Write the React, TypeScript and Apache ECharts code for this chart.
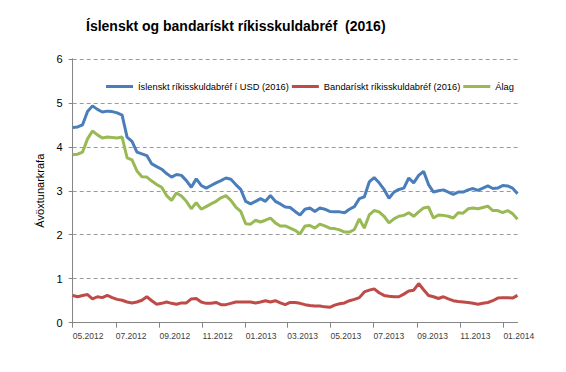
import React, { useEffect, useRef } from "react";
import * as echarts from "echarts";

const DAY = 86400000;
const startDate = Date.UTC(2012, 4, 1);
const stepDays = 7;

const seriesNames = [
  "Íslenskt ríkisskuldabréf í USD (2016)",
  "Bandarískt ríkisskuldabréf (2016)",
  "Álag",
];

const icelandUsd = [
  4.44, 4.45, 4.5, 4.8, 4.93, 4.85, 4.79, 4.81, 4.8, 4.77, 4.72, 4.22, 4.12, 3.88, 3.84, 3.8,
  3.61, 3.55, 3.49, 3.39, 3.31, 3.37, 3.35, 3.23, 3.08, 3.27, 3.12, 3.06, 3.12, 3.18, 3.23, 3.29,
  3.26, 3.14, 3.03, 2.76, 2.7, 2.76, 2.82, 2.76, 2.89, 2.76, 2.7, 2.63, 2.62, 2.53, 2.45, 2.58,
  2.61, 2.53, 2.61, 2.58, 2.53, 2.52, 2.52, 2.5, 2.58, 2.64, 2.82, 2.86, 3.2, 3.3, 3.18, 3.03,
  2.83, 2.97, 3.03, 3.06, 3.29, 3.18, 3.35, 3.44, 3.14, 2.97, 3.0, 3.02, 2.97, 2.92, 2.97, 2.97,
  3.02, 3.05, 3.01, 3.06, 3.11, 3.05, 3.06, 3.12, 3.11, 3.06, 2.93,
];

const usTreasury = [
  0.62, 0.59, 0.62, 0.64, 0.54, 0.59, 0.57, 0.62, 0.57, 0.53, 0.51, 0.47, 0.45, 0.47, 0.51, 0.59,
  0.5, 0.42, 0.44, 0.47, 0.44, 0.42, 0.45, 0.45, 0.54, 0.55, 0.47, 0.44, 0.44, 0.46, 0.41, 0.41,
  0.44, 0.47, 0.47, 0.47, 0.47, 0.45, 0.47, 0.5, 0.47, 0.5, 0.45, 0.41, 0.46, 0.46, 0.44, 0.41,
  0.39, 0.38, 0.38, 0.36, 0.35, 0.4, 0.43, 0.45, 0.5, 0.53, 0.57, 0.7, 0.74, 0.77, 0.68, 0.62,
  0.6, 0.59, 0.59, 0.65, 0.72, 0.74, 0.89, 0.75, 0.62, 0.59, 0.55, 0.59, 0.54, 0.5, 0.48, 0.47,
  0.46, 0.44, 0.42, 0.44, 0.46, 0.5, 0.56, 0.57, 0.57, 0.56, 0.62,
];

const spread = [
  3.82, 3.83, 3.88, 4.18, 4.36, 4.27, 4.2, 4.22, 4.21, 4.2, 4.22, 3.75, 3.7, 3.45, 3.32, 3.31,
  3.22, 3.14, 3.08, 2.89, 2.78, 2.95, 2.88, 2.76, 2.59, 2.73, 2.58, 2.64, 2.7, 2.76, 2.84, 2.89,
  2.78, 2.63, 2.53, 2.25, 2.24, 2.33, 2.29, 2.33, 2.38, 2.27, 2.2, 2.2, 2.15, 2.1, 2.02, 2.2,
  2.21, 2.15, 2.24, 2.2, 2.15, 2.14, 2.11, 2.06, 2.06, 2.12, 2.36, 2.15, 2.45, 2.55, 2.52, 2.42,
  2.27, 2.36, 2.42, 2.44, 2.5, 2.42, 2.52, 2.61, 2.63, 2.38, 2.45, 2.44, 2.42, 2.38, 2.5, 2.49,
  2.59, 2.61, 2.59, 2.62, 2.65, 2.55, 2.55, 2.5, 2.55, 2.48, 2.35,
];

const tickDates = [
  Date.UTC(2012, 4, 1), Date.UTC(2012, 6, 1), Date.UTC(2012, 8, 1), Date.UTC(2012, 10, 1),
  Date.UTC(2013, 0, 1), Date.UTC(2013, 2, 1), Date.UTC(2013, 4, 1), Date.UTC(2013, 6, 1),
  Date.UTC(2013, 8, 1), Date.UTC(2013, 10, 1), Date.UTC(2014, 0, 1),
];
const tickLabels = [
  "05.2012", "07.2012", "09.2012", "11.2012", "01.2013", "03.2013",
  "05.2013", "07.2013", "09.2013", "11.2013", "01.2014",
];

const colors = ["#4A7EBB", "#BE4B48", "#98B954"];

export default function App() {
  const ref = useRef<HTMLDivElement>(null);
  useEffect(() => {
    if (!ref.current) return;
    const chart = echarts.init(ref.current, undefined, { renderer: "svg" });
    const dates = icelandUsd.map((_, i) => startDate + i * stepDays * DAY);
    const endDate = dates[dates.length - 1];
    const mk = (vals: number[]) => vals.map((v, i) => [dates[i], v]);
    const allSeries = [icelandUsd, usTreasury, spread];
    chart.setOption({
      animation: false,
      color: colors,
      textStyle: { fontFamily: "Liberation Sans" },
      title: {
        text: "Íslenskt og bandarískt ríkisskuldabréf  (2016)",
        left: 81,
        top: 14,
        textStyle: { fontSize: 14, fontWeight: "bold", color: "#000", fontFamily: "Liberation Sans" },
      },
      legend: {
        left: 101,
        top: 77,
        icon: "rect",
        itemWidth: 27,
        itemHeight: 3,
        itemGap: 3,
        textStyle: { fontSize: 9.3, color: "#000", fontFamily: "Liberation Sans" },
        data: seriesNames,
      },
      grid: { left: 72.7, right: 48.5, top: 58.8, bottom: 49.3 },
      xAxis: {
        type: "value",
        min: startDate,
        max: endDate,
        axisLine: { lineStyle: { color: "#868686", width: 1 } },
        axisTick: { show: true, customValues: tickDates, length: 5, lineStyle: { color: "#868686" } },
        axisLabel: {
          customValues: tickDates,
          align: "left",
          margin: 9,
          fontSize: 8.5,
          color: "#404040",
          formatter: (v: number) => {
            const idx = tickDates.indexOf(v);
            return idx >= 0 ? tickLabels[idx] : "";
          },
        },
        splitLine: { show: false },
      },
      yAxis: {
        type: "value",
        min: 0,
        max: 6,
        interval: 1,
        name: "Ávöxtunarkrafa",
        nameLocation: "middle",
        nameGap: 21,
        nameTextStyle: { fontSize: 11, color: "#000", fontFamily: "Liberation Sans" },
        axisLine: { show: true, lineStyle: { color: "#868686", width: 1 } },
        axisTick: { show: true, length: 4, lineStyle: { color: "#868686" } },
        axisLabel: { fontSize: 11, color: "#000", margin: 10 },
        splitLine: { show: true, lineStyle: { color: "#9a9a9a", type: [4, 3], width: 1 } },
      },
      series: allSeries.map((vals, i) => ({
        name: seriesNames[i],
        type: "line",
        data: mk(vals),
        symbol: "none",
        lineStyle: { width: 3, color: colors[i] },
        itemStyle: { color: colors[i] },
      })),
    });
    return () => chart.dispose();
  }, []);
  return (
    <div
      ref={ref}
      style={{ position: "fixed", left: 0, top: 0, width: 566, height: 372, background: "#fff" }}
    />
  );
}
